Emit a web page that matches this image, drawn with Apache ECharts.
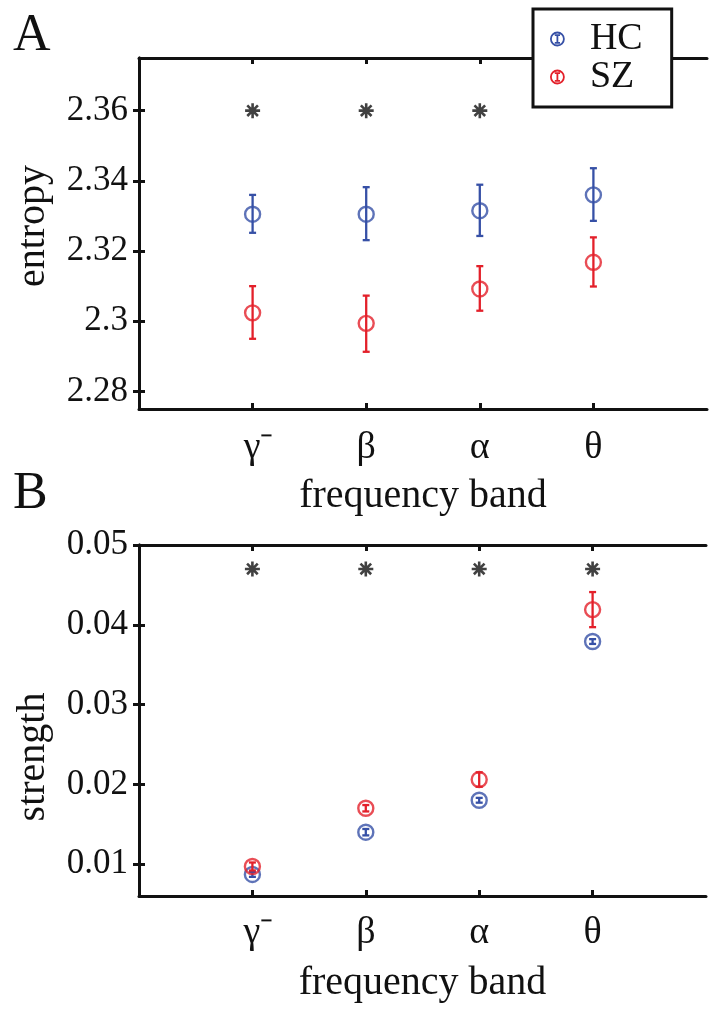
<!DOCTYPE html>
<html>
<head>
<meta charset="utf-8">
<script src="https://cdn.jsdelivr.net/npm/echarts@6/dist/echarts.min.js"></script>
<style>
html,body{margin:0;padding:0;background:#fff;}
#chart{width:718px;height:1009px;}
</style>
</head>
<body>
<div id="chart"></div>
<script>
// ---------- data ----------
const bandLabels = ['γ⁻', 'β', 'α', 'θ'];
const bandPos = [1, 2, 3, 4];

const entropyHC     = [2.3305, 2.3305, 2.3315, 2.3360];
const entropyHCLow  = [2.3252, 2.3231, 2.3243, 2.3286];
const entropyHCHigh = [2.3360, 2.3382, 2.3389, 2.3436];
const entropySZ     = [2.3024, 2.2994, 2.3092, 2.3168];
const entropySZLow  = [2.2950, 2.2913, 2.3030, 2.3099];
const entropySZHigh = [2.3100, 2.3073, 2.3157, 2.3239];
const entropyStars  = [2.36, 2.36, 2.36];

const strengthHC    = [0.0087, 0.0140, 0.0180, 0.0379];
const strengthHCErr = [0.0003, 0.0004, 0.0003, 0.0003];
const strengthSZ    = [0.0097, 0.0170, 0.0206, 0.0419];
const strengthSZErr = [0.0005, 0.0004, 0.0009, 0.0022];
const strengthStars = [0.047, 0.047, 0.047, 0.047];

const entropyTicks  = [2.28, 2.30, 2.32, 2.34, 2.36];
const strengthTicks = [0.01, 0.02, 0.03, 0.04, 0.05];

// ---------- style ----------
const BLUE = '#3650a6';
const RED = '#e3202a';
const INK = '#111111';
const FONT = 'Liberation Serif';

const pts = (ys) => ys.map((y, i) => [bandPos[i], y]);
const errs = (lo, hi) => lo.map((l, i) => [bandPos[i], l, hi[i]]);
const errsPM = (v, e) => v.map((y, i) => [bandPos[i], y - e[i], y + e[i]]);

function errRender(color) {
  return function (params, api) {
    const x = api.value(0);
    const lo = api.coord([x, api.value(1)]);
    const hi = api.coord([x, api.value(2)]);
    const w = 3.5;
    const st = { stroke: color, lineWidth: 2.3, fill: null };
    return {
      type: 'group',
      children: [
        { type: 'line', shape: { x1: lo[0], y1: lo[1], x2: hi[0], y2: hi[1] }, style: st },
        { type: 'line', shape: { x1: lo[0] - w, y1: lo[1], x2: lo[0] + w, y2: lo[1] }, style: st },
        { type: 'line', shape: { x1: hi[0] - w, y1: hi[1], x2: hi[0] + w, y2: hi[1] }, style: st }
      ]
    };
  };
}

const STAR = 'path://M0,-10 L0,10 M-10,0 L10,0 M-7.1,-7.1 L7.1,7.1 M-7.1,7.1 L7.1,-7.1';
const LEG_ICON = 'path://M10,0 A10,10 0 1,1 9.99,0 Z M10,4 L10,16 M6,4 L14,4 M6,16 L14,16';

const fmtNum = (v) => String(+(+v).toFixed(3));

function xAxes(grid, labelMargin) {
  return [
    {
      type: 'value', gridIndex: grid, min: 0, max: 5, position: 'bottom',
      axisLine: { show: true, lineStyle: { color: INK, width: 3 } },
      axisTick: { show: true, inside: true, length: 6, customValues: bandPos, lineStyle: { color: INK, width: 3 } },
      axisLabel: {
        show: true, customValues: bandPos, margin: labelMargin,
        formatter: (v) => {
          const i = bandPos.indexOf(Math.round(v));
          return i === 0 ? '{g|' + bandLabels[i] + '}' : '{t|' + bandLabels[i] + '}';
        },
        rich: {
          t: { fontFamily: FONT, fontSize: 38, color: INK },
          g: { fontFamily: FONT, fontSize: 38, color: INK, padding: [0, 0, 0, 12] }
        },
        fontFamily: FONT, fontSize: 38, color: INK
      },
      splitLine: { show: false },
      name: 'frequency band', nameLocation: 'middle', nameGap: 67,
      nameTextStyle: { fontFamily: FONT, fontSize: 40, color: INK }
    },
    {
      type: 'value', gridIndex: grid, min: 0, max: 5, position: 'top',
      axisLine: { show: true, lineStyle: { color: INK, width: 3 } },
      axisTick: { show: true, inside: true, length: 6, customValues: bandPos, lineStyle: { color: INK, width: 3 } },
      axisLabel: { show: false },
      splitLine: { show: false }
    }
  ];
}

function yAxes(grid, min, max, ticks) {
  return [
    {
      type: 'value', gridIndex: grid, min: min, max: max, position: 'left',
      axisLine: { show: true, lineStyle: { color: INK, width: 3 } },
      axisTick: { show: true, inside: true, length: 6, customValues: ticks, lineStyle: { color: INK, width: 3 } },
      axisLabel: {
        show: true, customValues: ticks, margin: 11, formatter: fmtNum,
        fontFamily: FONT, fontSize: 35, color: INK
      },
      splitLine: { show: false }
    },
    {
      type: 'value', gridIndex: grid, min: min, max: max, position: 'right',
      axisLine: { show: true, lineStyle: { color: INK, width: 3 } },
      axisTick: { show: true, inside: true, length: 6, customValues: ticks, lineStyle: { color: INK, width: 3 } },
      axisLabel: { show: false },
      splitLine: { show: false }
    }
  ];
}

function circles(name, data, color, xi, yi, z) {
  return {
    name: name, type: 'scatter', xAxisIndex: xi, yAxisIndex: yi, data: data,
    symbol: 'circle', symbolSize: 15, z: z,
    itemStyle: { color: 'rgba(0,0,0,0)', borderColor: color, borderWidth: 2.4 },
    emphasis: { disabled: true }, silent: true
  };
}
function errorBars(name, data, color, xi, yi, z) {
  return {
    name: name, type: 'custom', xAxisIndex: xi, yAxisIndex: yi, data: data,
    encode: { x: 0, y: [1, 2] }, renderItem: errRender(color), z: z, silent: true
  };
}
function stars(data, xi, yi) {
  return {
    name: 'sig', type: 'scatter', xAxisIndex: xi, yAxisIndex: yi, data: data,
    symbol: STAR, symbolSize: 15, z: 5,
    itemStyle: { color: 'rgba(0,0,0,0)', borderColor: INK, borderWidth: 2.6 },
    emphasis: { disabled: true }, silent: true
  };
}

const chart = echarts.init(document.getElementById('chart'), null, { renderer: 'canvas' });
chart.setOption({
  backgroundColor: '#ffffff',
  animation: false,
  grid: [
    { left: 139, top: 58, width: 568, height: 351, containLabel: false },
    { left: 139, top: 545, width: 567, height: 351, containLabel: false }
  ],
  xAxis: [...xAxes(0, 20), ...xAxes(1, 18)],
  yAxis: [...yAxes(0, 2.275, 2.375, entropyTicks), ...yAxes(1, 0.006, 0.05, strengthTicks)],
  legend: {
    data: [
      { name: 'HC', icon: LEG_ICON, itemStyle: { color: '#fff', borderColor: BLUE, borderWidth: 1.8 } },
      { name: 'SZ', icon: LEG_ICON, itemStyle: { color: '#fff', borderColor: RED, borderWidth: 1.8 } }
    ],
    orient: 'vertical', left: 533, top: 9,
    itemWidth: 13, itemHeight: 13, itemGap: 0,
    padding: [11, 29, 11, 17],
    backgroundColor: '#ffffff', borderColor: INK, borderWidth: 3, borderRadius: 0,
    textStyle: { fontFamily: FONT, fontSize: 38, color: INK, lineHeight: 37, padding: [0, 0, 0, 21] },
    selectedMode: false, z: 20
  },
  graphic: [
    { type: 'text', left: 13, top: 10, style: { text: 'A', fontFamily: FONT, fontSize: 52, fill: INK } },
    { type: 'text', left: 13, top: 468, style: { text: 'B', fontFamily: FONT, fontSize: 52, fill: INK } },
    { type: 'text', x: 33, y: 226, rotation: Math.PI / 2,
      style: { text: 'entropy', fontFamily: FONT, fontSize: 40, fill: INK, align: 'center', verticalAlign: 'middle' } },
    { type: 'text', x: 33, y: 757, rotation: Math.PI / 2,
      style: { text: 'strength', fontFamily: FONT, fontSize: 40, fill: INK, align: 'center', verticalAlign: 'middle' } }
  ],
  series: [
    errorBars('HC', errs(entropyHCLow, entropyHCHigh), BLUE, 0, 0, 3),
    circles('HC', pts(entropyHC), BLUE, 0, 0, 3),
    errorBars('SZ', errs(entropySZLow, entropySZHigh), RED, 0, 0, 4),
    circles('SZ', pts(entropySZ), RED, 0, 0, 4),
    stars(pts(entropyStars), 0, 0),

    errorBars('HC', errsPM(strengthHC, strengthHCErr), BLUE, 2, 2, 3),
    circles('HC', pts(strengthHC), BLUE, 2, 2, 3),
    errorBars('SZ', errsPM(strengthSZ, strengthSZErr), RED, 2, 2, 4),
    circles('SZ', pts(strengthSZ), RED, 2, 2, 4),
    stars(pts(strengthStars), 2, 2)
  ]
});
</script>
</body>
</html>
